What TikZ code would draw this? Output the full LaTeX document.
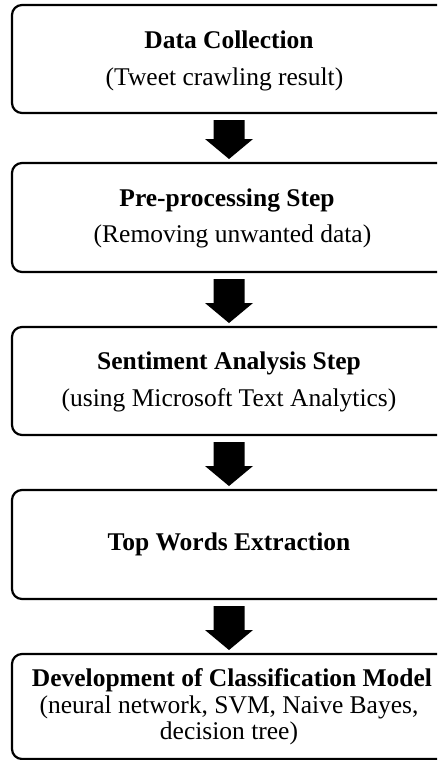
\documentclass[tikz,border=0pt]{standalone}
\usepackage{fontspec}
\setmainfont{Liberation Serif}
\usetikzlibrary{calc}
\begin{document}
\begin{tikzpicture}[x=1pt,y=-1pt,
  stepbox/.style={draw=black, line width=2.2pt, rounded corners=10pt,
    minimum width=450pt, inner sep=0pt, outer sep=0pt},
  steptext/.style={inner sep=0pt, align=center,
    font=\fontsize{25.5pt}{25.6pt}\selectfont}]
\useasboundingbox (0,0) rectangle (437,760);
\clip (0,0) rectangle (437,760);
\fill[white] (0,0) rectangle (437,760);
\node[stepbox, minimum height=108pt] (b1) at (237,59) {};
\node[stepbox, minimum height=109pt] (b2) at (237,217.5) {};
\node[stepbox, minimum height=108pt] (b3) at (237,381) {};
\node[stepbox, minimum height=109pt] (b4) at (237,544.5) {};
\node[stepbox, minimum height=105pt] (b5) at (237,706.5) {};
\node[steptext] (t1) at ($(b1.center)+(-8,2)$)
  {\textbf{Data Collection}\\[11.4pt](Tweet crawling result)\hspace*{9pt}};
\node[steptext] (t2) at ($(b2.center)+(-8,1)$)
  {\textbf{Pre-processing Step}\hspace*{4pt}\\[11pt]\hspace*{7pt}(Removing unwanted data)};
\node[steptext] (t3) at ($(b3.center)+(-8,1)$)
  {\textbf{Sentiment Analysis Step}\\[11.4pt](using Microsoft Text Analytics)};
\node[steptext] (t4) at ($(b4.center)+(-8,0)$)
  {\textbf{Top Words Extraction}};
\node[steptext] (t5) at ($(b5.center)+(-8,0)$)
  {\hspace*{6pt}\textbf{Development of Classification Model}\\[2.1pt](neural network, SVM, Naive Bayes,\hspace*{16pt}\\decision tree)};
\foreach \a/\b in {b1/b2,b2/b3,b3/b4,b4/b5}{
  \fill[black] ($(\a.south)+(-23.5,7)$) -- ($(\a.south)+(7.5,7)$)
    -- ($(\b.north)+(7.5,-24)$) -- ($(\b.north)+(16,-24)$)
    -- ($(\b.north)+(-8,-4)$) -- ($(\b.north)+(-32,-24)$)
    -- ($(\b.north)+(-23.5,-24)$) -- cycle;
}
\end{tikzpicture}
\end{document}
